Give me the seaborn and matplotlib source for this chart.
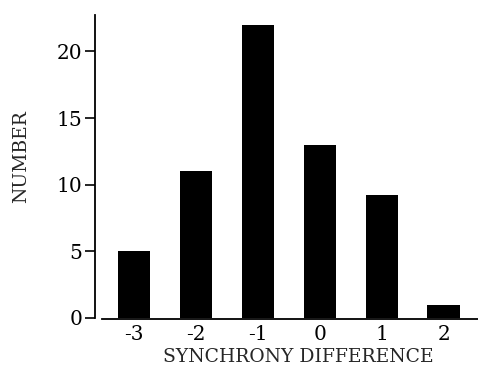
import matplotlib
matplotlib.use("Agg")
import matplotlib.pyplot as plt
import seaborn as sns
import pandas as pd

categories = ["-3", "-2", "-1", "0", "1", "2"]
counts = [5, 11, 22, 13, 9.2, 1]
y_ticks = [0, 5, 10, 15, 20]

sns.set_style("ticks")
plt.rcParams['font.family'] = ['DejaVu Serif']

df = pd.DataFrame({"diff": categories, "n": counts})

fig = plt.figure(figsize=(4.78, 3.68), dpi=100)
ax = fig.add_axes([0.1987, 0.1323, 0.8013, 0.8278])
sns.barplot(data=df, x="diff", y="n", order=categories, color="black",
            width=0.53, saturation=1, edgecolor="none", ax=ax)

ax.set_xlim(-0.63, 5.55)
ax.set_ylim(-0.1, 22.75)
ax.set_yticks(y_ticks)
ax.set_yticklabels([str(t) for t in y_ticks])
ax.spines['top'].set_visible(False)
ax.spines['right'].set_visible(False)
ax.spines['left'].set_bounds(0, 22.75)
ax.spines['bottom'].set_bounds(-0.52, 5.55)
for s in ('left', 'bottom'):
    ax.spines[s].set_linewidth(1.3)
    ax.spines[s].set_color("black")
ax.tick_params(axis='y', length=7, width=1.2, labelsize=14.5, pad=2, colors="black")
ax.tick_params(axis='x', length=0, labelsize=14.5, pad=4, colors="black")
ax.set_xlabel("SYNCHRONY DIFFERENCE", fontsize=13.5, va="baseline")
ax.xaxis.set_label_coords(0.531, -0.14)
ax.set_ylabel("NUMBER", fontsize=13.5, va="center")
ax.yaxis.set_label_coords(-0.192, 0.533)

fig.savefig("out.png", dpi=100)
